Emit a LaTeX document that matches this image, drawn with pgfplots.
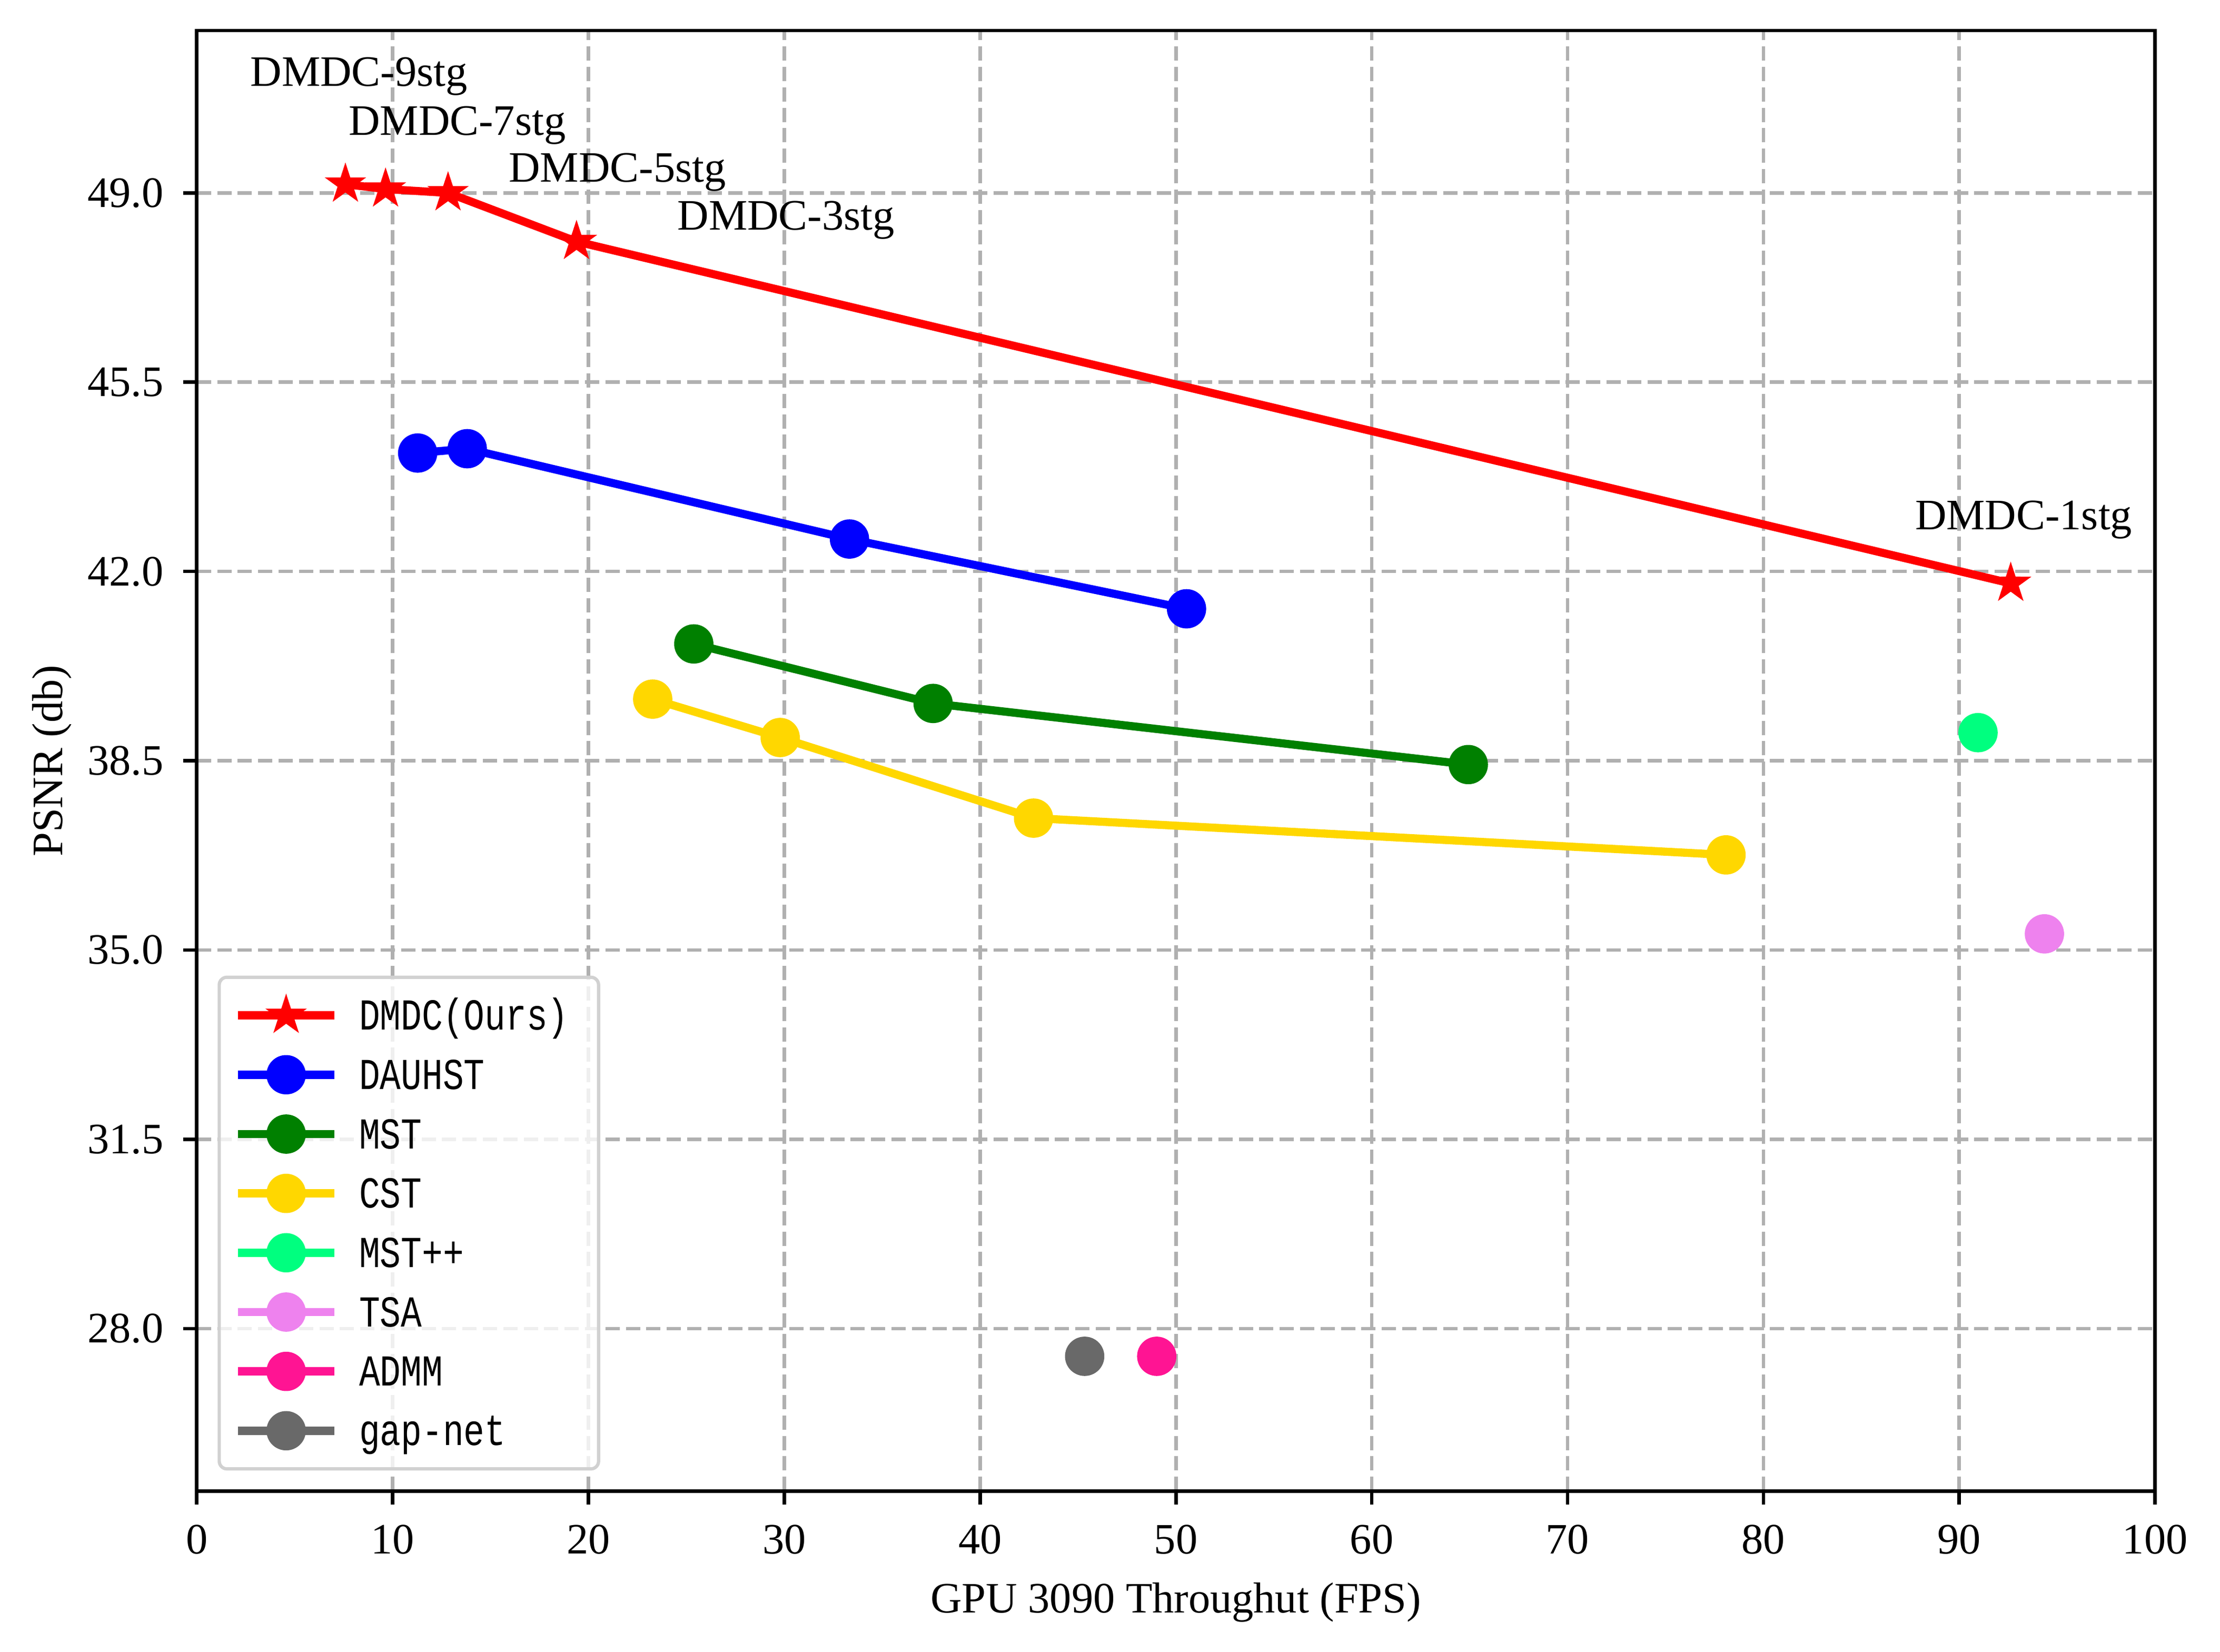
\documentclass[border=0pt]{standalone}
\usepackage{fontspec}
\setmainfont{Liberation Serif}
\newfontfamily\legfont[FakeStretch=0.79]{Liberation Mono}
\usepackage{pgfplots}
\pgfplotsset{compat=1.18}
\newcommand\fsz{\fontsize{11.3}{13.6}\selectfont}
\newcommand\lsz{\legfont\fontsize{11.5}{13.6}\selectfont}

\definecolor{cRed}{HTML}{FF0000}
\definecolor{cBlue}{HTML}{0000FF}
\definecolor{cGreen}{HTML}{008000}
\definecolor{cGold}{HTML}{FFD700}
\definecolor{cSpring}{HTML}{00FF7F}
\definecolor{cViolet}{HTML}{EE82EE}
\definecolor{cPink}{HTML}{FF1493}
\definecolor{cGray}{HTML}{696969}
\definecolor{cGrid}{HTML}{B0B0B0}

\pgfdeclareplotmark{fstar}{%
  \pgfpathmoveto{\pgfpointpolar{90}{\pgfplotmarksize}}%
  \pgfpathlineto{\pgfpointpolar{126}{0.382\pgfplotmarksize}}%
  \pgfpathlineto{\pgfpointpolar{162}{\pgfplotmarksize}}%
  \pgfpathlineto{\pgfpointpolar{198}{0.382\pgfplotmarksize}}%
  \pgfpathlineto{\pgfpointpolar{234}{\pgfplotmarksize}}%
  \pgfpathlineto{\pgfpointpolar{270}{0.382\pgfplotmarksize}}%
  \pgfpathlineto{\pgfpointpolar{306}{\pgfplotmarksize}}%
  \pgfpathlineto{\pgfpointpolar{342}{0.382\pgfplotmarksize}}%
  \pgfpathlineto{\pgfpointpolar{18}{\pgfplotmarksize}}%
  \pgfpathlineto{\pgfpointpolar{54}{0.382\pgfplotmarksize}}%
  \pgfpathclose
  \pgfusepathqfillstroke}

\begin{document}
\begin{tikzpicture}
\begin{axis}[
  name=ax, at={(0,0)}, anchor=south west,
  scale only axis, width=508bp, height=378.8bp,
  xmin=0, xmax=100, ymin=25, ymax=52,
  xtick={0,10,...,100},
  ytick={28,31.5,35,38.5,42,45.5,49},
  /pgf/number format/assume math mode=true,
  y tick label style={/pgf/number format/fixed, /pgf/number format/fixed zerofill, /pgf/number format/precision=1},
  tick label style={font=\fsz},
  xticklabel style={anchor=base, yshift=-12.8bp},
  yticklabel style={anchor=east, inner xsep=0pt, xshift=-4.9bp},
  tick pos=left, tick align=outside,
  major tick length=3.5bp,
  every tick/.style={black, line width=0.9bp},
  axis line style={black, line width=0.9bp},
  grid=major,
  major grid style={cGrid, line width=0.9bp, dash pattern=on 3.7bp off 1.6bp},
  xlabel={GPU 3090 Throughut (FPS)},
  ylabel={PSNR (db)},
  xlabel style={font=\fsz, at={(axis description cs:0.5,-0.0834)}, anchor=base},
  ylabel style={font=\fsz, at={(axis description cs:-0.0687,0.5)}, anchor=base},
  legend image code/.code={\draw[sharp corners, fill opacity=1, draw opacity=1, mark repeat=2, mark phase=2] plot coordinates {(0bp,0bp)(12.5bp,0bp)(25bp,0bp)};},
  legend style={at={(axis description cs:0.01063,0.01399)}, anchor=south west,
    draw=black!18, line width=0.85bp, rounded corners=2bp,
    fill=white, fill opacity=0.8, draw opacity=1, text opacity=1,
    inner xsep=3.8bp, inner ysep=4.7bp,
    row sep=4.99bp, column sep=5.4bp,
    nodes={inner sep=0pt, text height=9bp, text depth=1.4bp, font=\lsz, text width=58.3bp, align=left}},
  every axis plot/.append style={line width=2.1bp},
]
\addplot[color=cRed, mark=fstar, mark size=5bp, mark options={line width=0.4bp}]
  coordinates {(7.59,49.16)(9.64,49.07)(12.83,49.00)(19.39,48.10)(92.63,41.78)};
\addlegendentry{DMDC(Ours)}
\addplot[color=cBlue, mark=*, mark size=4.9bp, mark options={line width=0.4bp}]
  coordinates {(11.28,44.19)(13.81,44.27)(33.33,42.60)(50.54,41.31)};
\addlegendentry{DAUHST}
\addplot[color=cGreen, mark=*, mark size=4.9bp, mark options={line width=0.4bp}]
  coordinates {(25.38,40.66)(37.60,39.56)(64.93,38.43)};
\addlegendentry{MST}
\addplot[color=cGold, mark=*, mark size=4.9bp, mark options={line width=0.4bp}]
  coordinates {(23.28,39.64)(29.79,38.93)(42.73,37.44)(78.09,36.76)};
\addlegendentry{CST}
\addplot[color=cSpring, mark=*, mark size=4.9bp, mark options={line width=0.4bp}]
  coordinates {(90.96,39.02)};
\addlegendentry{MST++}
\addplot[color=cViolet, mark=*, mark size=4.9bp, mark options={line width=0.4bp}]
  coordinates {(94.35,35.30)};
\addlegendentry{TSA}
\addplot[color=cPink, mark=*, mark size=4.9bp, mark options={line width=0.4bp}]
  coordinates {(49.02,27.49)};
\addlegendentry{ADMM}
\addplot[color=cGray, mark=*, mark size=4.9bp, mark options={line width=0.4bp}]
  coordinates {(45.34,27.49)};
\addlegendentry{gap-net}

\node[anchor=base west, inner sep=0pt, font=\fsz] at (axis cs:2.70,50.97) {DMDC-9stg};
\node[anchor=base west, inner sep=0pt, font=\fsz] at (axis cs:7.72,50.07) {DMDC-7stg};
\node[anchor=base west, inner sep=0pt, font=\fsz] at (axis cs:15.90,49.20) {DMDC-5stg};
\node[anchor=base west, inner sep=0pt, font=\fsz] at (axis cs:24.51,48.32) {DMDC-3stg};
\node[anchor=base west, inner sep=0pt, font=\fsz] at (axis cs:87.71,42.78) {DMDC-1stg};
\end{axis}
\pgfresetboundingbox
\useasboundingbox (-51.05bp,-41.76bp) rectangle (524.85bp,386.74bp);
\end{tikzpicture}
\end{document}
